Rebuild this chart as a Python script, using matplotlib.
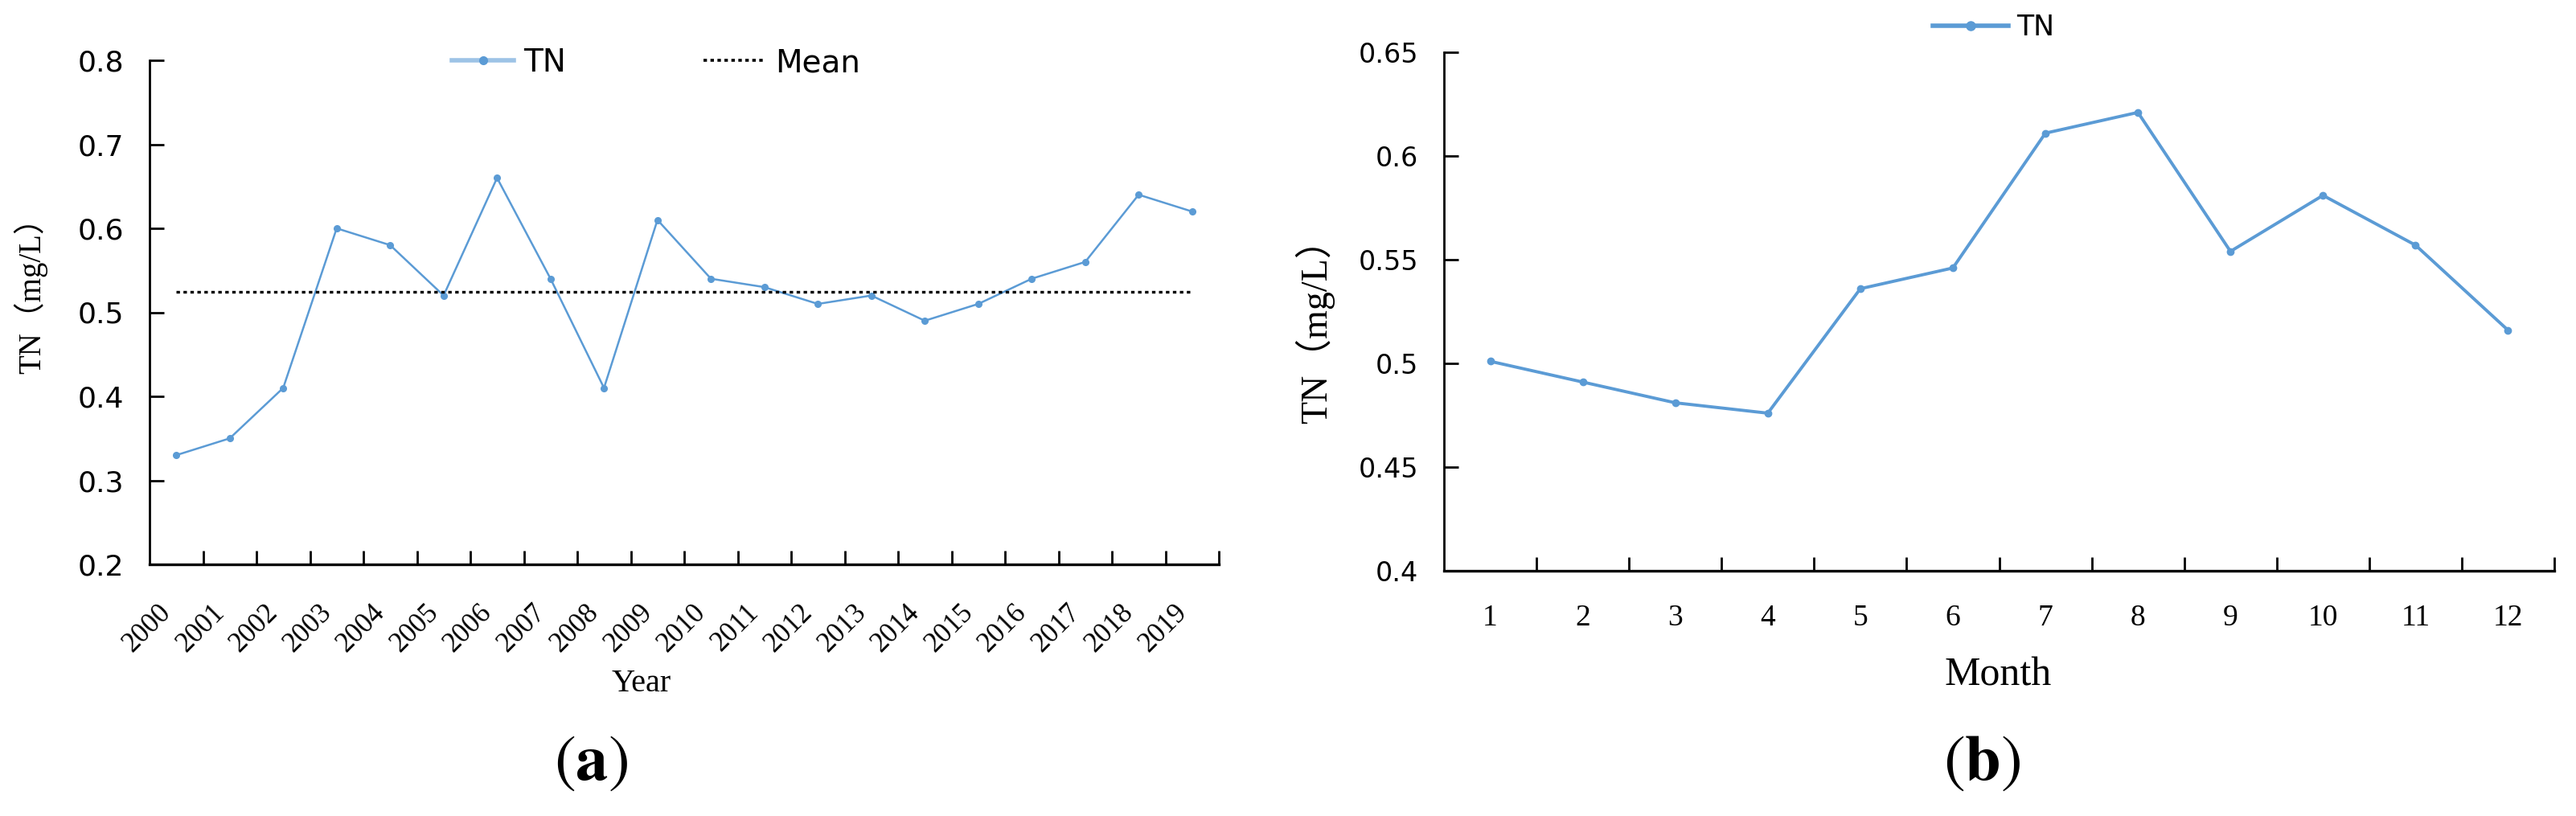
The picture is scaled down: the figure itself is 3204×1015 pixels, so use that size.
import numpy as np
import matplotlib
matplotlib.use("Agg")
import matplotlib.pyplot as plt
from matplotlib.lines import Line2D
from matplotlib.ticker import FixedLocator

# ---------------- data ----------------
years = [str(y) for y in range(2000, 2020)]
tn_year = [0.33, 0.35, 0.41, 0.60, 0.58, 0.52, 0.66, 0.54, 0.41, 0.61,
           0.54, 0.53, 0.51, 0.52, 0.49, 0.51, 0.54, 0.56, 0.64, 0.62]
tn_mean = 0.524

months = [str(m) for m in range(1, 13)]
tn_month = [0.501, 0.491, 0.481, 0.476, 0.536, 0.546, 0.611, 0.621,
            0.554, 0.581, 0.557, 0.516]

yticks_a = [0.2, 0.3, 0.4, 0.5, 0.6, 0.7, 0.8]
yticklabels_a = ["0.2", "0.3", "0.4", "0.5", "0.6", "0.7", "0.8"]
yticks_b = [0.4, 0.45, 0.5, 0.55, 0.6, 0.65]
yticklabels_b = ["0.4", "0.45", "0.5", "0.55", "0.6", "0.65"]

# ---------------- style ----------------
W, H = 3204, 1015
fig = plt.figure(figsize=(W / 100, H / 100), dpi=100)
blue = "#5B9BD5"
light_blue = "#9DC3E6"
serif = ["Liberation Serif", "DejaVu Serif"]
serif_cjk = ["Liberation Serif", "Noto Sans CJK SC"]
sans = ["DejaVu Sans"]


def fx(px):
    return px / W


def fy(py):
    return 1 - py / H


def style_axes(ax, n, ylim, yt, ytl, ysize, xpad):
    ax.set_xlim(-0.5, n - 0.5)
    ax.set_ylim(*ylim)
    for s in ("top", "right"):
        ax.spines[s].set_visible(False)
    ax.spines["left"].set_linewidth(2.0)
    ax.spines["bottom"].set_linewidth(2.4)
    ax.set_yticks(yt)
    ax.set_yticklabels(ytl, fontsize=ysize, family=sans)
    ax.tick_params(axis="y", direction="in", length=13, width=2.0, pad=23)
    ax.xaxis.set_major_locator(FixedLocator(list(range(n))))
    ax.xaxis.set_minor_locator(FixedLocator([i + 0.5 for i in range(n)]))
    ax.tick_params(axis="x", which="major", length=0, pad=xpad)
    ax.tick_params(axis="x", which="minor", direction="in", length=12.5, width=2.0)


# ---------------- panel (a) ----------------
axa = fig.add_axes([fx(186), fy(702), fx(1516 - 186), (702 - 75) / H])
xa = np.arange(len(years))
axa.plot(xa, tn_year, color=blue, lw=1.8, marker="o", ms=5.5, mfc=blue, mec=blue)
axa.plot([xa[0], xa[-1]], [tn_mean, tn_mean], color="black", lw=2.4,
         linestyle=(0, (1.3, 1.3)))
style_axes(axa, len(years), (0.2, 0.8), yticks_a, yticklabels_a, 26, 31)
axa.set_xticklabels(years, rotation=45, ha="right", va="top",
                    fontsize=25, family=serif)

h_tn_a = Line2D([], [], color=light_blue, lw=4, marker="o", ms=7,
                mfc=blue, mec=blue)
h_mean = Line2D([], [], color="black", lw=2.6, linestyle=(0, (1.2, 1.2)))
fig.legend([h_tn_a, h_mean], ["TN", "Mean"], loc="center",
           bbox_to_anchor=(fx(816), fy(78)), ncol=2, frameon=False,
           prop={"family": sans, "size": 28}, handlelength=2.0,
           handletextpad=0.3, columnspacing=4.4, borderpad=0.2)

fig.text(fx(38), fy(358), "TN（mg/L）", rotation=90, ha="center", va="center",
         fontsize=28, family=serif_cjk)
fig.text(fx(798), fy(850), "Year", ha="center", va="center",
         fontsize=29, family=serif)
fig.text(fx(735), fy(948), r"$\mathrm{(}\mathbf{a}\mathrm{)}$", ha="center",
         va="center", fontsize=58, math_fontfamily="stix")

# ---------------- panel (b) ----------------
axb = fig.add_axes([fx(1796), fy(710), fx(3177 - 1796), (710 - 65) / H])
xb = np.arange(len(months))
axb.plot(xb, tn_month, color=blue, lw=2.8, marker="o", ms=6, mfc=blue, mec=blue)
style_axes(axb, len(months), (0.4, 0.65), yticks_b, yticklabels_b, 24, 30)
axb.set_xticklabels(months, fontsize=27, family=serif)

h_tn_b = Line2D([], [], color=blue, lw=4, marker="o", ms=8, mfc=blue, mec=blue)
fig.legend([h_tn_b], ["TN"], loc="center", bbox_to_anchor=(fx(2480), fy(34)),
           frameon=False, prop={"family": sans, "size": 25}, handlelength=2.7,
           handletextpad=0.3, borderpad=0.2)

fig.text(fx(1636), fy(401), "TN（mg/L）", rotation=90, ha="center", va="center",
         fontsize=33, family=serif_cjk)
fig.text(fx(2485), fy(840), "Month", ha="center", va="center",
         fontsize=36, family=serif)
fig.text(fx(2465), fy(948), r"$\mathrm{(}\mathbf{b}\mathrm{)}$", ha="center",
         va="center", fontsize=58, math_fontfamily="stix")

fig.savefig("out.png", dpi=100, facecolor="white")
